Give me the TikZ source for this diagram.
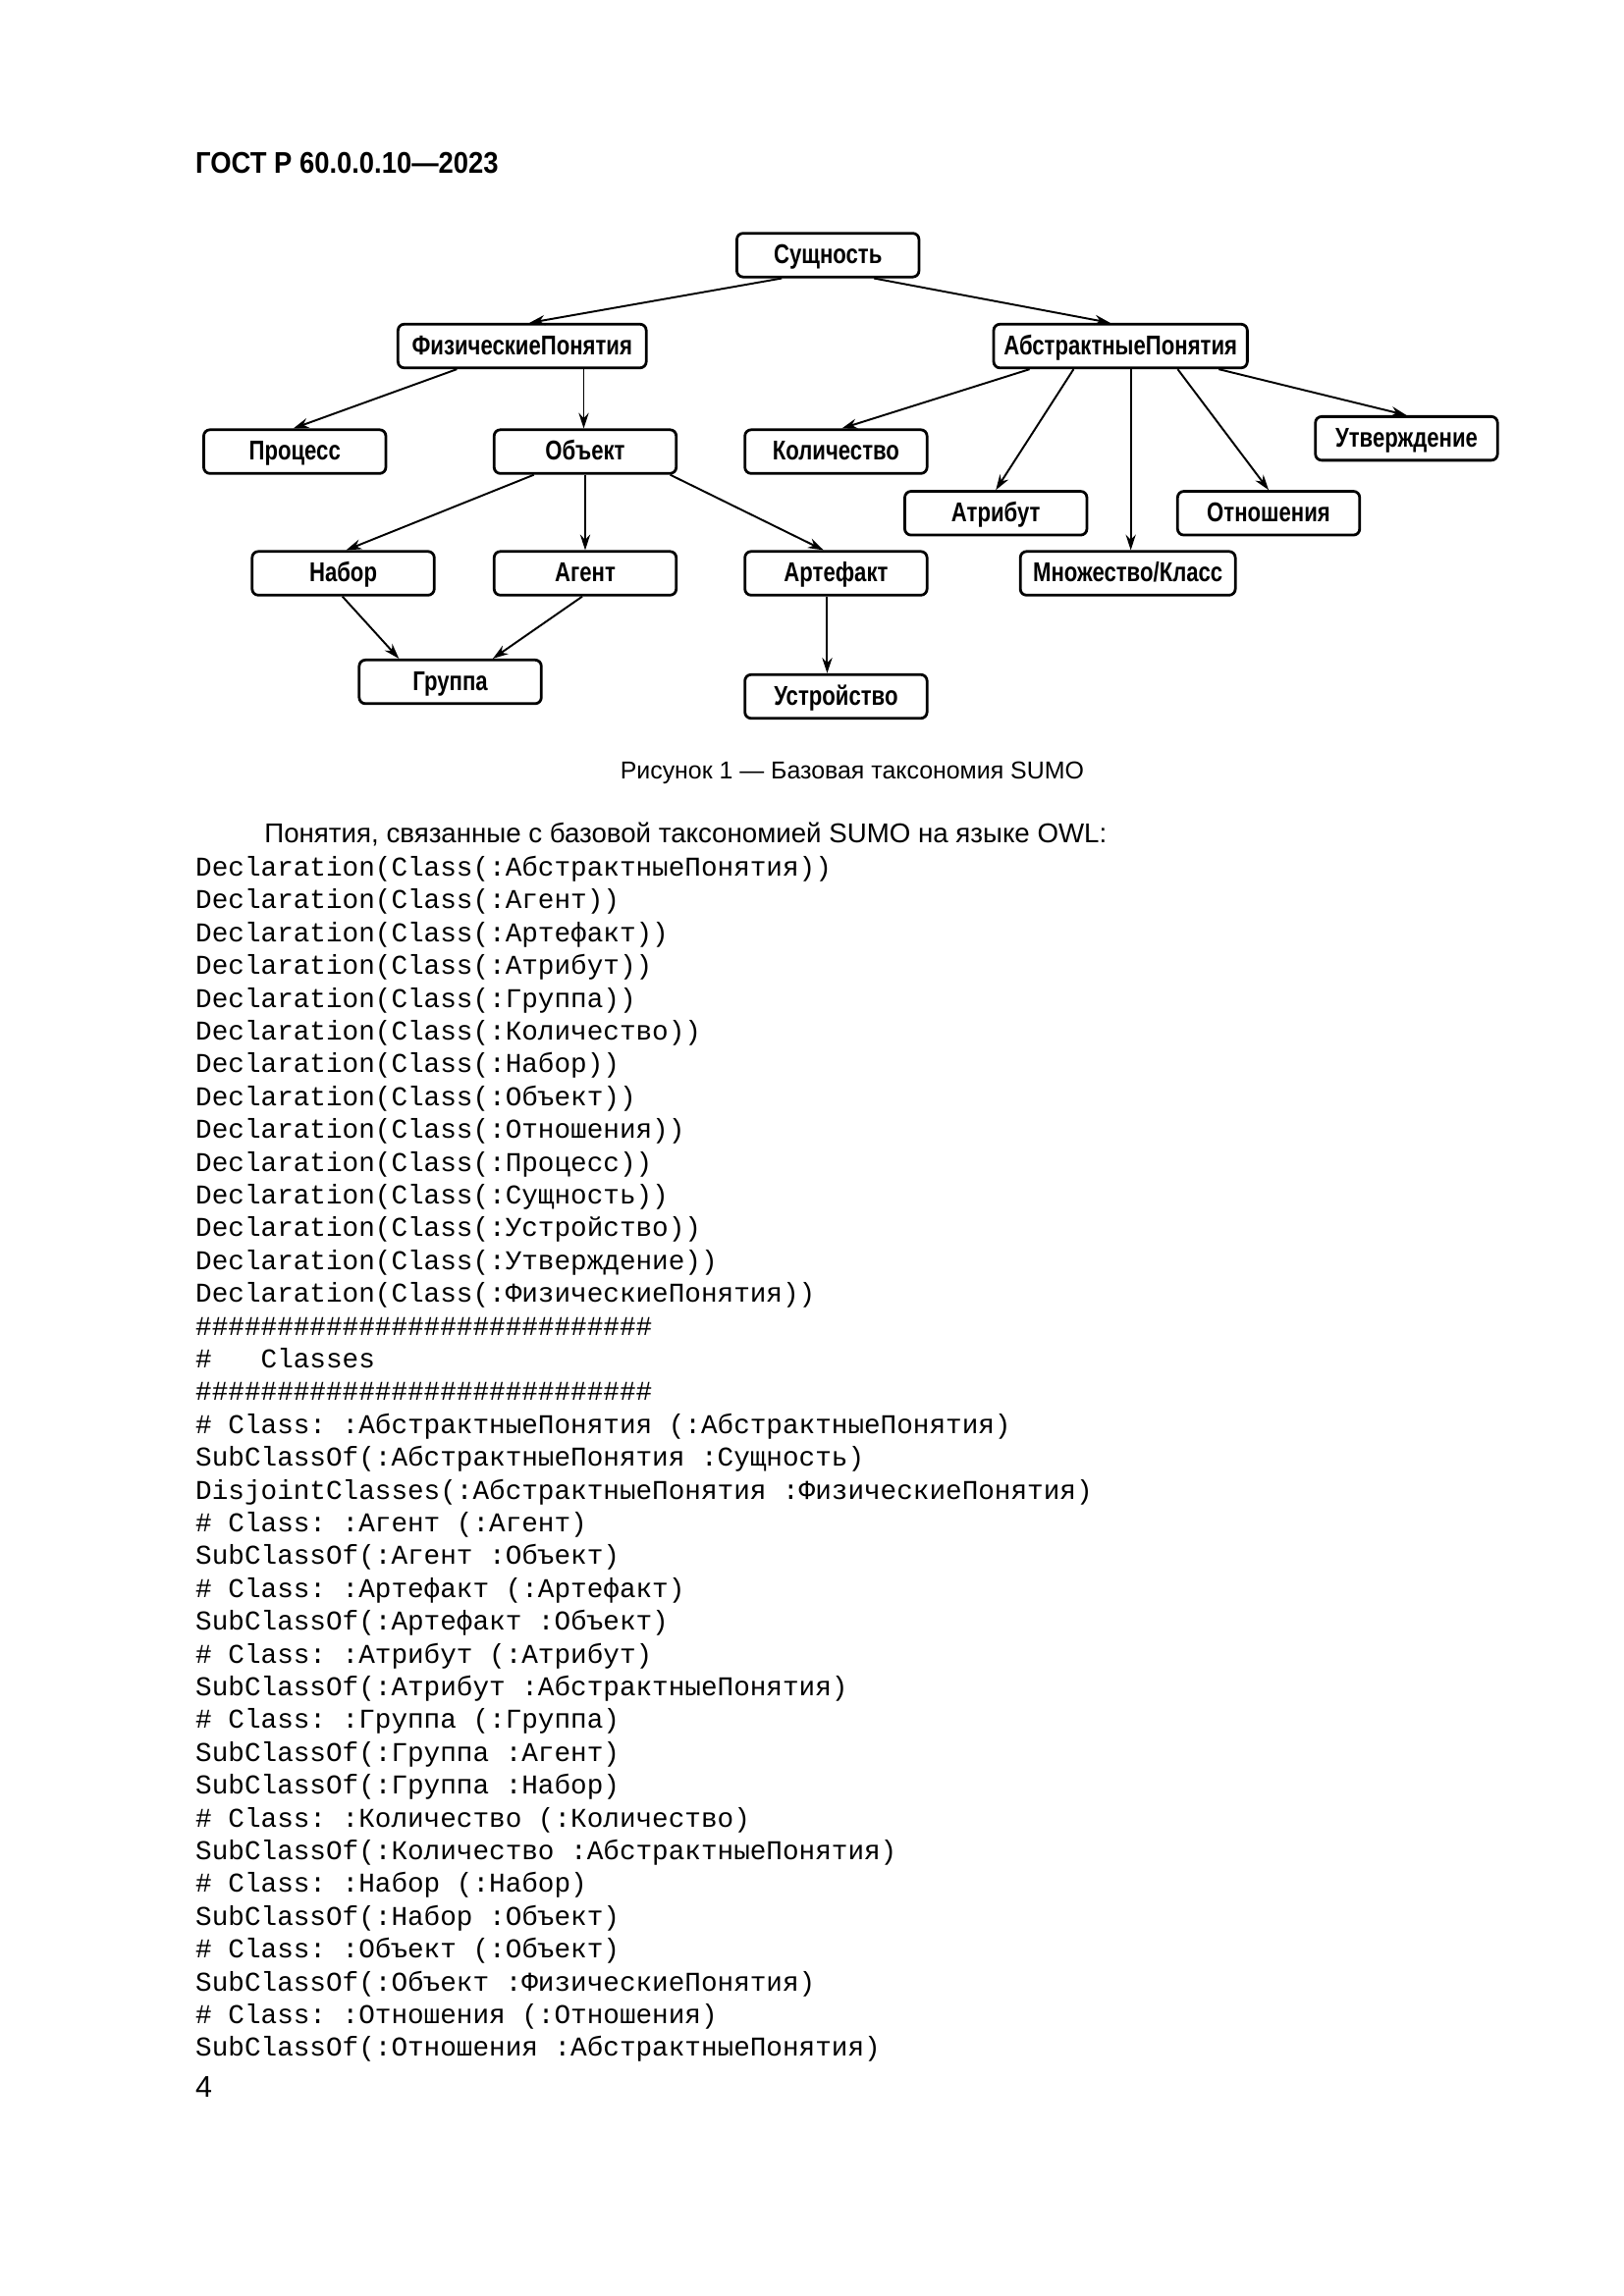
\documentclass[tikz,border=0pt]{standalone}
\usepackage{fontspec}
\setmainfont{Liberation Sans}
\setmonofont{Liberation Mono}
\newfontfamily\boxfont[FakeStretch=0.8]{Liberation Sans}
\newfontfamily\headfont[FakeStretch=0.9]{Liberation Sans}
\usetikzlibrary{arrows.meta,calc}

\tikzset{
	concept/.style={draw, rounded corners=0.8mm, line width=1pt, minimum width=23.55mm, minimum height=5.65mm,
		inner sep=0pt, text height=2.5mm, text depth=0.3mm, font=\boxfont\bfseries\fontsize{10}{12}\selectfont},
	isa/.style={-{Stealth[length=2mm,width=1.3mm]}, line width=0.7pt},
	codeline/.style={anchor=base west, inner sep=0pt, font=\ttfamily\fontsize{10}{12}\selectfont},
}

\begin{document}
\begin{tikzpicture}[x=0.18967mm, y=-0.18967mm]
	\useasboundingbox (0,0) rectangle (1107.2,1565.9);

	\node[anchor=base west, inner sep=0pt, font=\headfont\bfseries\fontsize{11}{13}\selectfont] (gost) at (133,118) {ГОСТ Р 60.0.0.10—2023};

	% taxonomy
	\node[concept] (sush) at (564.5,174) {Сущность};
	\node[concept, minimum width=32.1mm] (fiz) at (356,236) {ФизическиеПонятия};
	\node[concept, minimum width=32.8mm] (abs) at (764,236) {АбстрактныеПонятия};
	\node[concept] (proc) at (201,308) {Процесс};
	\node[concept] (obj) at (399,308) {Объект};
	\node[concept] (kol) at (570,308) {Количество};
	\node[concept] (utv) at (959,299) {Утверждение};
	\node[concept] (atr) at (679,350) {Атрибут};
	\node[concept] (otn) at (865,350) {Отношения};
	\node[concept] (nab) at (234,391) {Набор};
	\node[concept] (agent) at (399,391) {Агент};
	\node[concept] (art) at (570,391) {Артефакт};
	\node[concept, minimum width=27.8mm] (mnozh) at (769,391) {Множество/Класс};
	\node[concept] (grup) at (307,465) {Группа};
	\node[concept] (ustr) at (570,475) {Устройство};

	\draw[isa] ($(sush.south)+(-31.5,0)$) -- ($(fiz.north)+(5,0)$);
	\draw[isa] ($(sush.south)+(31.5,0)$) -- ($(abs.north)+(-7,0)$);
	\draw[isa] ($(fiz.south)+(-44.5,0)$) -- ($(proc.north)+(-1,0)$);
	\draw[isa] ($(fiz.south)+(42,0)$) -- ($(obj.north)+(-1,0)$);
	\draw[isa] ($(obj.south)+(-35,0)$) -- ($(nab.north)+(2,0)$);
	\draw[isa] (obj.south) -- (agent.north);
	\draw[isa] ($(obj.south)+(58,0)$) -- ($(art.north)+(-8.5,0)$);
	\draw[isa] ($(nab.south)+(-0.5,0)$) -- ($(grup.north)+(-35,0)$);
	\draw[isa] ($(agent.south)+(-2,0)$) -- ($(grup.north)+(29,0)$);
	\draw[isa] ($(art.south)+(-6,0)$) -- ($(ustr.north)+(-6,0)$);
	\draw[isa] ($(abs.south)+(-62,0)$) -- ($(kol.north)+(4,0)$);
	\draw[isa] ($(abs.south)+(-32,0)$) -- (atr.north);
	\draw[isa] ($(abs.south)+(7,0)$) -- ($(mnozh.north)+(2,0)$);
	\draw[isa] ($(abs.south)+(39,0)$) -- (otn.north);
	\draw[isa] ($(abs.south)+(67,0)$) -- (utv.north);

	\node[anchor=base, inner sep=0pt, font=\fontsize{9}{11}\selectfont] (caption) at (581,531) {Рисунок 1 — Базовая таксономия SUMO};

	% OWL text
	\node[anchor=base west, inner sep=0pt, font=\fontsize{10}{12}\selectfont] (intro) at (180,575) {Понятия, связанные с базовой таксономией SUMO на языке OWL:};
	\foreach \txt [count=\n from 0] in {
		Declaration(Class(:АбстрактныеПонятия)),
		Declaration(Class(:Агент)),
		Declaration(Class(:Артефакт)),
		Declaration(Class(:Атрибут)),
		Declaration(Class(:Группа)),
		Declaration(Class(:Количество)),
		Declaration(Class(:Набор)),
		Declaration(Class(:Объект)),
		Declaration(Class(:Отношения)),
		Declaration(Class(:Процесс)),
		Declaration(Class(:Сущность)),
		Declaration(Class(:Устройство)),
		Declaration(Class(:Утверждение)),
		Declaration(Class(:ФизическиеПонятия)),
		\#\#\#\#\#\#\#\#\#\#\#\#\#\#\#\#\#\#\#\#\#\#\#\#\#\#\#\#,
		\#\ \ \ Classes,
		\#\#\#\#\#\#\#\#\#\#\#\#\#\#\#\#\#\#\#\#\#\#\#\#\#\#\#\#,
		\# Class: :АбстрактныеПонятия (:АбстрактныеПонятия),
		SubClassOf(:АбстрактныеПонятия :Сущность),
		DisjointClasses(:АбстрактныеПонятия :ФизическиеПонятия),
		\# Class: :Агент (:Агент),
		SubClassOf(:Агент :Объект),
		\# Class: :Артефакт (:Артефакт),
		SubClassOf(:Артефакт :Объект),
		\# Class: :Атрибут (:Атрибут),
		SubClassOf(:Атрибут :АбстрактныеПонятия),
		\# Class: :Группа (:Группа),
		SubClassOf(:Группа :Агент),
		SubClassOf(:Группа :Набор),
		\# Class: :Количество (:Количество),
		SubClassOf(:Количество :АбстрактныеПонятия),
		\# Class: :Набор (:Набор),
		SubClassOf(:Набор :Объект),
		\# Class: :Объект (:Объект),
		SubClassOf(:Объект :ФизическиеПонятия),
		\# Class: :Отношения (:Отношения),
		SubClassOf(:Отношения :АбстрактныеПонятия)}
		\node[codeline] (code\n) at (133,597.5+22.36*\n) {\txt};

	\node[anchor=base west, inner sep=0pt, font=\fontsize{11}{13}\selectfont] (page) at (133,1430) {4};
\end{tikzpicture}
\end{document}
